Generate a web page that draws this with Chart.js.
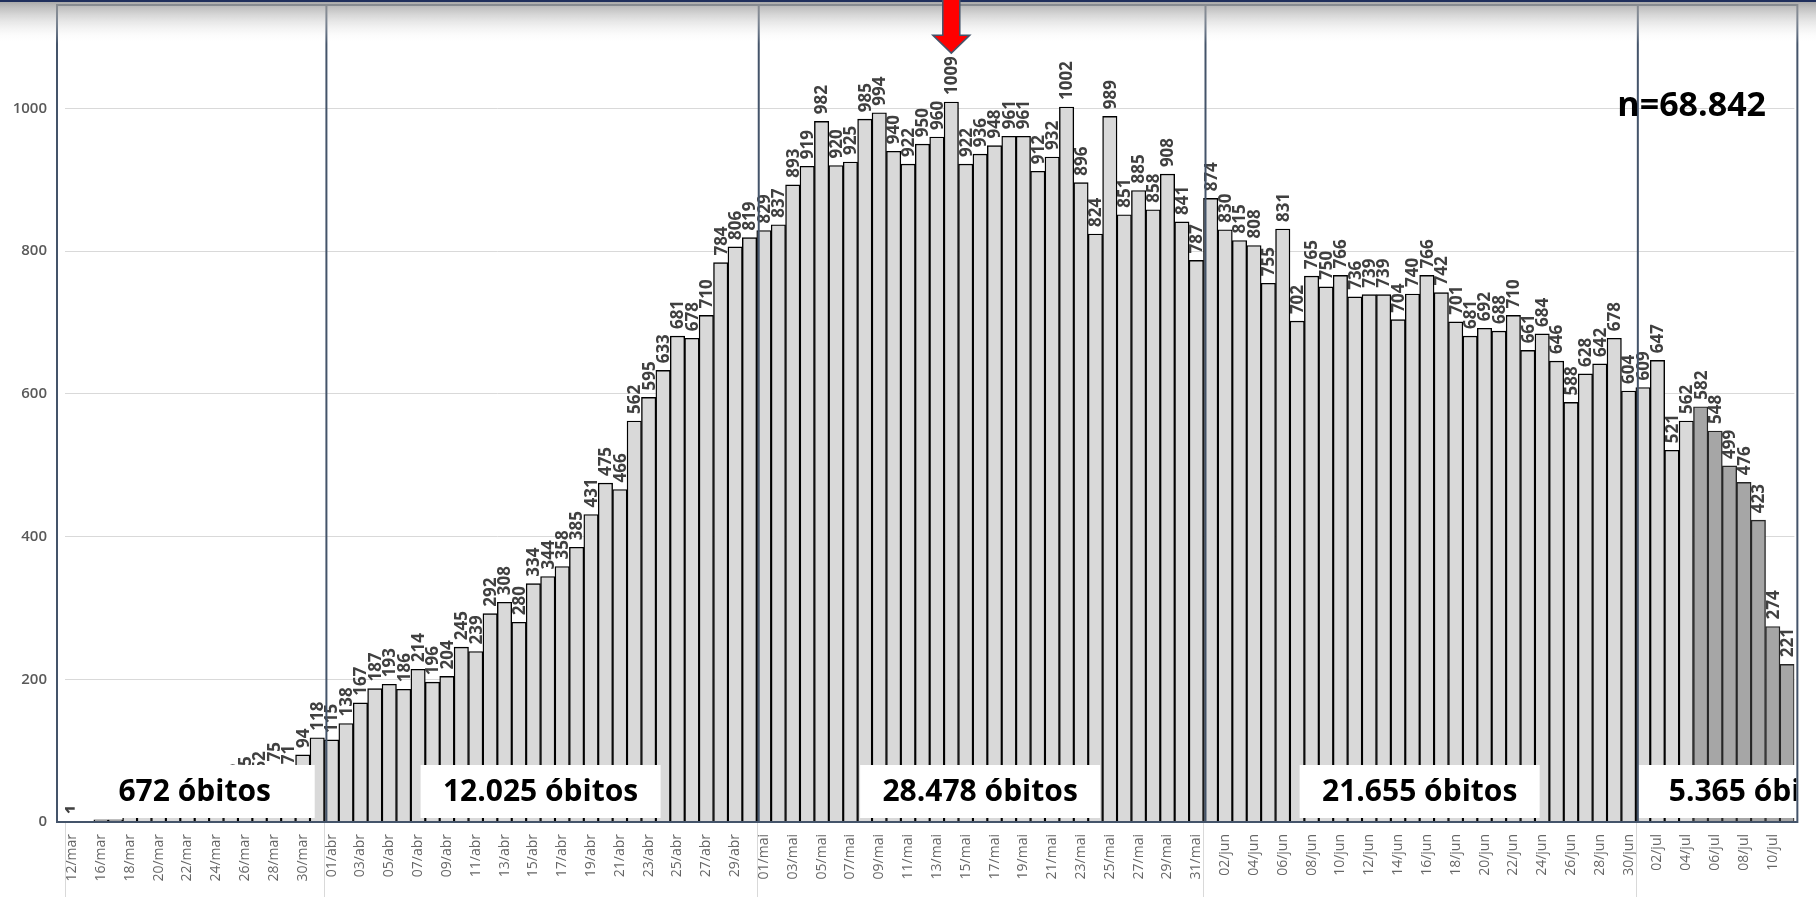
<!DOCTYPE html>
<html lang="pt-BR">
<head>
<meta charset="utf-8">
<title>Óbitos diários</title>
<script src="https://cdn.jsdelivr.net/npm/chart.js@4.4.1/dist/chart.umd.min.js"></script>
<style>
  html, body { margin: 0; padding: 0; background: #fff; }
  #wrap { width: 1816px; height: 897px; }
</style>
</head>
<body>
<div id="wrap"><canvas id="chart-obitos" width="1816" height="897"></canvas></div>
<script>
/* ── óbitos por data de ocorrência, mar–jul ── */

// ── dados ──
const diasMar = ['12/mar', '15/mar', '16/mar', '17/mar', '18/mar', '19/mar', '20/mar', '21/mar', '22/mar',
  '23/mar', '24/mar', '25/mar', '26/mar', '27/mar', '28/mar', '29/mar', '30/mar', '31/mar'];
const diasAbr = seqDias('abr', 30);
const diasMai = seqDias('mai', 31);
const diasJun = seqDias('jun', 30);
const diasJul = seqDias('jul', 11);

const obitosMar = [1, 1, 3, 3, 7, 10, 14, 20, 25, 30, 38, 45, 55, 62, 75, 71, 94, 118];
const obitosAbr = [115, 138, 167, 187, 193, 186, 214, 196, 204, 245, 239, 292, 308, 280, 334, 344, 358, 385,
  431, 475, 466, 562, 595, 633, 681, 678, 710, 784, 806, 819];
const obitosMai = [829, 837, 893, 919, 982, 920, 925, 985, 994, 940, 922, 950, 960, 1009, 922, 936, 948, 961,
  961, 912, 932, 1002, 896, 824, 989, 851, 885, 858, 908, 841, 787];
const obitosJun = [874, 830, 815, 808, 755, 831, 702, 765, 750, 766, 736, 739, 739, 704, 740, 766, 742, 701,
  681, 692, 688, 710, 661, 684, 646, 588, 628, 642, 678, 604];
const obitosJul = [609, 647, 521, 562, 582, 548, 499, 476, 423, 274, 221];

const totaisMes = ['672 óbitos', '12.025 óbitos', '28.478 óbitos', '21.655 óbitos', '5.365 óbitos'];
const totalGeral = 'n=68.842';
const inicioParcial = '05/jul';   // dias ainda em consolidação
const yTicks = [0, 200, 400, 600, 800, 1000];

function seqDias(mes, n) {
  return Array.from({ length: n }, (_, i) => String(i + 1).padStart(2, '0') + '/' + mes);
}

const meses = [obitosMar, obitosAbr, obitosMai, obitosJun, obitosJul];
const labels = [diasMar, diasAbr, diasMai, diasJun, diasJul].flat();
const values = meses.flat();
const idxParcial = labels.indexOf(inicioParcial);

// ── estilo ──
const Y_MAX = 1145;
const FRAME = '#44546a';
const LABEL_GAP = 7;
const LABEL_FONT = 'bold 17px "Open Sans"';
const BOX_W = 240, BOX_H = 53;

// rótulos de valor na vertical, acima de cada barra
const rotulosValor = {
  id: 'rotulosValor',
  afterDatasetsDraw(chart) {
    const { ctx } = chart;
    const meta = chart.getDatasetMeta(0);
    ctx.save();
    ctx.font = LABEL_FONT;
    ctx.fillStyle = '#404040';
    ctx.textAlign = 'left';
    ctx.textBaseline = 'middle';
    meta.data.forEach((bar, i) => {
      ctx.save();
      ctx.translate(bar.x, bar.y - LABEL_GAP);
      ctx.rotate(-Math.PI / 2);
      ctx.fillText(String(values[i]), 0, 1);
      ctx.restore();
    });
    ctx.restore();
  }
};

// caixas de totais, divisões por mês, moldura, faixa do topo e seta do pico
const moldura = {
  id: 'moldura',
  afterDraw(chart) {
    const { ctx, chartArea: a, scales: { x, y } } = chart;
    const passo = x.getPixelForValue(1) - x.getPixelForValue(0);
    const fL = a.left - 8, fR = a.right + 3;

    // totais por mês
    let ini = 0;
    const divisoes = [];
    meses.forEach((mes, m) => {
      const x0 = x.getPixelForValue(ini) - passo / 2;
      const x1 = x.getPixelForValue(ini + mes.length - 1) + passo / 2;
      let left = (x0 + x1) / 2 - BOX_W / 2;
      if (left < x0 + 2) left = x0 + 2;
      const top = a.bottom - BOX_H - 4;
      ctx.save();
      ctx.beginPath();
      ctx.rect(fL, a.top, fR - fL - 1, a.bottom - a.top);
      ctx.clip();
      ctx.fillStyle = '#fff';
      ctx.fillRect(left, top, BOX_W, BOX_H);
      ctx.fillStyle = '#000';
      ctx.font = 'bold 30px "Open Sans"';
      ctx.textAlign = 'center';
      ctx.textBaseline = 'middle';
      ctx.fillText(totaisMes[m], left + BOX_W / 2, top + BOX_H / 2 + 1);
      ctx.restore();
      if (m > 0) divisoes.push(x0);
      ini += mes.length;
    });

    ctx.save();
    // guias claras sob o eixo
    ctx.strokeStyle = '#d9d9d9';
    ctx.lineWidth = 1;
    [a.left, ...divisoes].forEach(px => {
      ctx.beginPath();
      ctx.moveTo(Math.round(px) + 0.5, a.bottom);
      ctx.lineTo(Math.round(px) + 0.5, chart.height);
      ctx.stroke();
    });

    // divisões escuras entre meses
    ctx.strokeStyle = FRAME;
    ctx.lineWidth = 2;
    divisoes.forEach(px => {
      ctx.beginPath();
      ctx.moveTo(px + 2, a.top);
      ctx.lineTo(px + 2, a.bottom);
      ctx.stroke();
    });
    ctx.strokeRect(fL, a.top, fR - fL, a.bottom - a.top);

    // faixa cinza do topo
    const g = ctx.createLinearGradient(0, 2, 0, 44);
    g.addColorStop(0, 'rgba(150,150,150,0.8)');
    g.addColorStop(1, 'rgba(255,255,255,0)');
    ctx.fillStyle = g;
    ctx.fillRect(0, 2, chart.width, 42);
    ctx.fillStyle = '#1f2f5c';
    ctx.fillRect(0, 0, chart.width, 2);

    // seta sobre o pico
    const iMax = values.indexOf(Math.max(...values));
    const bar = chart.getDatasetMeta(0).data[iMax];
    ctx.font = LABEL_FONT;
    const ponta = bar.y - LABEL_GAP - ctx.measureText(String(values[iMax])).width - 3;
    const cx = bar.x;
    ctx.beginPath();
    ctx.moveTo(cx - 8.5, -2);
    ctx.lineTo(cx + 8.5, -2);
    ctx.lineTo(cx + 8.5, ponta - 18);
    ctx.lineTo(cx + 18.5, ponta - 18);
    ctx.lineTo(cx, ponta);
    ctx.lineTo(cx - 18.5, ponta - 18);
    ctx.lineTo(cx - 8.5, ponta - 18);
    ctx.closePath();
    ctx.fillStyle = '#ff0000';
    ctx.fill();
    ctx.strokeStyle = FRAME;
    ctx.lineWidth = 1.5;
    ctx.stroke();

    // total geral
    ctx.fillStyle = '#000';
    ctx.font = 'bold 34px "Open Sans"';
    ctx.textAlign = 'left';
    ctx.textBaseline = 'middle';
    ctx.fillText(totalGeral, fR - 180, y.getPixelForValue(1003));
    ctx.restore();
  }
};

document.addEventListener('DOMContentLoaded', () => {
  const ctx = document.getElementById('chart-obitos');

  new Chart(ctx, {
    type: 'bar',
    data: {
      labels,
      datasets: [{
        label: 'Óbitos',
        data: values,
        backgroundColor: values.map((_, i) => i >= idxParcial ? '#a6a6a6' : '#d9d9d9'),
        borderColor: values.map((_, i) => i >= idxParcial ? '#262626' : '#000'),
        borderWidth: 1.4,
        barPercentage: 1,
        categoryPercentage: 1,
      }],
    },
    options: {
      responsive: false,
      animation: false,
      layout: { padding: { top: 5, right: 11, left: 0, bottom: 0 } },
      plugins: { legend: { display: false }, tooltip: { enabled: false } },
      scales: {
        x: {
          grid: { display: false, drawTicks: false },
          border: { display: false },
          ticks: {
            autoSkip: false, maxRotation: 90, minRotation: 90, padding: 12,
            color: '#666666', font: { family: 'Open Sans', size: 14 },
            callback(v, i) { return i % 2 === 0 ? this.getLabelForValue(v) : ''; },
          },
          afterFit(s) { s.height = 75; },
        },
        y: {
          min: 0, max: Y_MAX,
          border: { display: false },
          grid: {
            drawTicks: false,
            color: c => (c.tick && yTicks.includes(c.tick.value) && c.tick.value > 0) ? '#d9d9d9' : 'rgba(0,0,0,0)',
          },
          afterBuildTicks(s) { s.ticks = yTicks.map(v => ({ value: v })); },
          ticks: {
            padding: 18, color: '#595959',
            font: { family: 'Open Sans', size: 15, weight: '600' },
            callback: v => String(v),
          },
          afterFit(s) { s.width = 65; s.paddingTop = 0; s.paddingBottom = 0; },
        },
      },
    },
    plugins: [rotulosValor, moldura],
  });
});
</script>
</body>
</html>
